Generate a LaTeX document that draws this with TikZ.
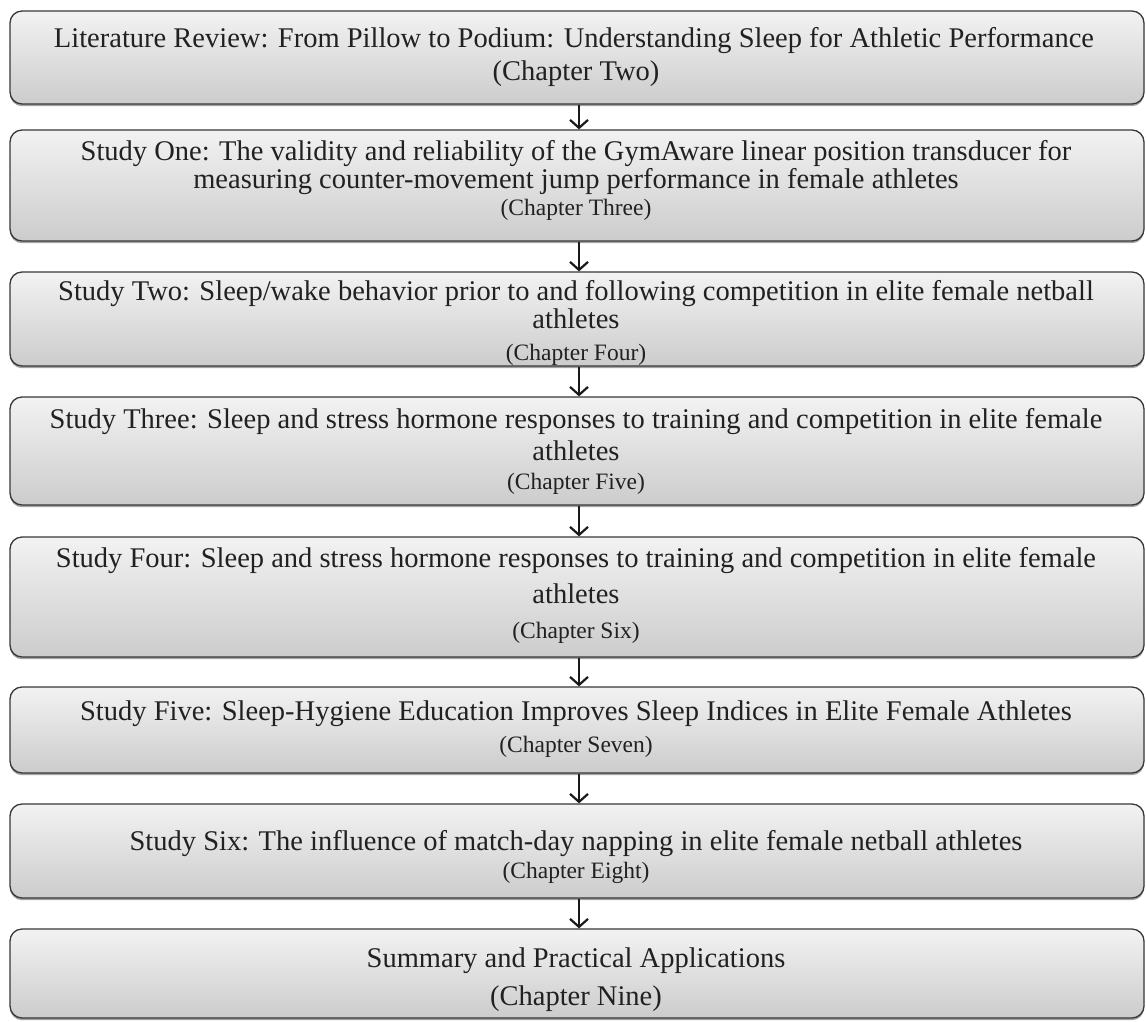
\documentclass[tikz,border=0pt]{standalone}
\usepackage{fontspec}
\setmainfont{Liberation Serif}
\usetikzlibrary{arrows.meta,shadows}
\tikzset{
  box/.style={rectangle, rounded corners=12pt, draw=black!78, line width=1.3pt,
    top color=black!5, bottom color=black!20, minimum width=1134pt,
    drop shadow={shadow xshift=0pt, shadow yshift=-2.2pt, fill=black!45, opacity=0.8},
    inner sep=0pt},
  main/.style={anchor=base, inner sep=0pt, text=black!87, font=\fontsize{28.5}{31}\selectfont},
  chap/.style={anchor=base, inner sep=0pt, text=black!87, font=\fontsize{23.5}{26}\selectfont},
  arr/.style={draw=black!90, line width=2.2pt, -{Straight Barb[length=8pt,width=18pt,line width=2.2pt]}}
}
\begin{document}
\begin{tikzpicture}[x=1pt,y=-1pt]
\useasboundingbox[fill=white] (0,0) rectangle (1146,1021);
% boxes (center y, height)
\node[box, minimum height=93pt]  (b1) at (577,57.5) {};
\node[box, minimum height=111pt] (b2) at (577,185.5) {};
\node[box, minimum height=94pt]  (b3) at (577,319) {};
\node[box, minimum height=108pt] (b4) at (577,451) {};
\node[box, minimum height=120pt] (b5) at (577,597) {};
\node[box, minimum height=86pt]  (b6) at (577,730) {};
\node[box, minimum height=94pt]  (b7) at (577,851) {};
\node[box, minimum height=89pt]  (b8) at (577,973.5) {};
% texts
\node[main] (t1a) at (574,47) {Literature Review: From Pillow to Podium: Understanding Sleep for Athletic Performance};
\node[main] (t1b) at (576,80) {(Chapter Two)};
\node[main] (t2a) at (576,160) {Study One: The validity and reliability of the GymAware linear position transducer for};
\node[main] (t2b) at (576,188) {measuring counter-movement jump performance in female athletes};
\node[chap] (t2c) at (576,215) {(Chapter Three)};
\node[main] (t3a) at (576,300) {Study Two: Sleep/wake behavior prior to and following competition in elite female netball};
\node[main] (t3b) at (576,328) {athletes};
\node[chap] (t3c) at (576,360) {(Chapter Four)};
\node[main] (t4a) at (576,428) {Study Three: Sleep and stress hormone responses to training and competition in elite female};
\node[main] (t4b) at (576,460) {athletes};
\node[chap] (t4c) at (576,489) {(Chapter Five)};
\node[main] (t5a) at (576,567) {Study Four: Sleep and stress hormone responses to training and competition in elite female};
\node[main] (t5b) at (576,603) {athletes};
\node[chap] (t5c) at (576,638) {(Chapter Six)};
\node[main] (t6a) at (576,720) {Study Five: Sleep-Hygiene Education Improves Sleep Indices in Elite Female Athletes};
\node[chap] (t6b) at (576,752) {(Chapter Seven)};
\node[main] (t7a) at (576,850) {Study Six: The influence of match-day napping in elite female netball athletes};
\node[chap] (t7b) at (576,878) {(Chapter Eight)};
\node[main] (t8a) at (576,967) {Summary and Practical Applications};
\node[main] (t8b) at (576,1005) {(Chapter Nine)};
% arrows
\coordinate (ax) at (579,0);
\foreach \a/\b in {b1/b2,b2/b3,b3/b4,b4/b5,b5/b6,b6/b7,b7/b8}
  \draw[arr] (\a.south -| ax) -- (\b.north -| ax);
\end{tikzpicture}
\end{document}
